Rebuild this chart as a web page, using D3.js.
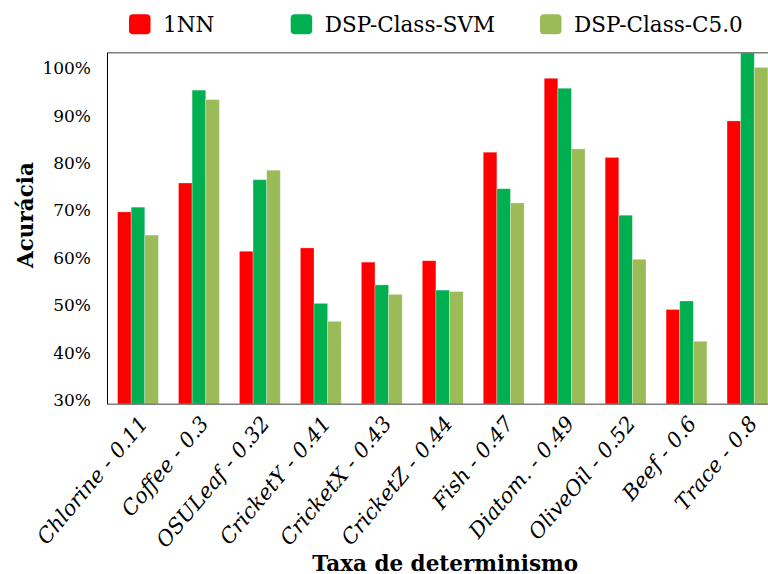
<!DOCTYPE html>
<html>
<head>
<meta charset="utf-8">
<script src="https://cdn.jsdelivr.net/npm/d3@7"></script>
<style>
  body { margin: 0; background: #fff; }
  svg { display: block; font-family: 'DejaVu Serif', serif; }
</style>
</head>
<body>
<div id="chart"></div>
<script>
// data (accuracy in %)
var categories = ['Chlorine - 0.11', 'Coffee - 0.3', 'OSULeaf - 0.32', 'CricketY - 0.41',
  'CricketX - 0.43', 'CricketZ - 0.44', 'Fish - 0.47', 'Diatom. - 0.49',
  'OliveOil - 0.52', 'Beef - 0.6', 'Trace - 0.8'];
var seriesNames = ['1NN', 'DSP-Class-SVM', 'DSP-Class-C5.0'];
var nn1 = [69.7, 75.8, 61.4, 62.1, 59.1, 59.4, 82.3, 97.9, 81.2, 49.1, 88.9];
var dspSvm = [70.7, 95.4, 76.5, 50.4, 54.3, 53.2, 74.6, 95.8, 69.0, 50.9, 104];
var dspC50 = [64.8, 93.4, 78.5, 46.6, 52.3, 52.9, 71.6, 83.0, 59.7, 42.4, 100.2];
var yTicks = [30, 40, 50, 60, 70, 80, 90, 100];
var colors = ['#ff0000', '#00b050', '#9bbb59'];

var W = 768, H = 574;
var plot = { left: 107.5, right: 783, top: 52.7, bottom: 404.3 };

var svg = d3.select('#chart').append('svg')
  .attr('width', W)
  .attr('height', H);

// scales
var x0 = d3.scaleBand()
  .domain(categories)
  .range([plot.left, plot.left + 11 * 60.95])
  .paddingInner(0.33)
  .paddingOuter(0.165);

var x1 = d3.scaleBand()
  .domain(seriesNames)
  .range([0, x0.bandwidth()]);

var y = d3.scaleLinear()
  .domain([29.1, 103.3])
  .range([plot.bottom, plot.top]);

var table = categories.map(function (c, i) {
  return { cat: c, values: [nn1[i], dspSvm[i], dspC50[i]] };
});

svg.append('clipPath').attr('id', 'plotclip')
  .append('rect')
  .attr('x', plot.left).attr('y', plot.top)
  .attr('width', plot.right - plot.left).attr('height', plot.bottom - plot.top);

//bars
var groups = svg.append('g')
  .attr('clip-path', 'url(#plotclip)')
  .selectAll('g')
  .data(table)
  .enter()
  .append('g')
  .attr('transform', function (d) { return 'translate(' + x0(d.cat) + ',0)'; });

groups.selectAll('rect')
  .data(function (d) { return d.values.map(function (v, k) { return { name: seriesNames[k], v: v, k: k }; }); })
  .enter()
  .append('rect')
  .attr('x', function (d) { return x1(d.name); })
  .attr('y', function (d) { return y(d.v); })
  .attr('width', x1.bandwidth())
  .attr('height', function (d) { return y.range()[0] - y(d.v); })
  .attr('fill', function (d) { return colors[d.k]; })
  .attr('stroke', '#fff')
  .attr('stroke-opacity', 0.35)
  .attr('stroke-width', 0.8);

//frame
svg.append('line')
  .attr('x1', plot.left).attr('x2', plot.right)
  .attr('y1', plot.top).attr('y2', plot.top)
  .attr('stroke', '#7f7f7f').attr('stroke-width', 1.6);
svg.append('line')
  .attr('x1', plot.left).attr('x2', plot.right)
  .attr('y1', plot.bottom).attr('y2', plot.bottom)
  .attr('stroke', '#7f7f7f').attr('stroke-width', 1.6);
svg.append('line')
  .attr('x1', plot.left).attr('x2', plot.left)
  .attr('y1', plot.top).attr('y2', plot.bottom)
  .attr('stroke', '#000').attr('stroke-width', 1);

//y-axis
var yAxis = svg.append('g')
  .attr('transform', 'translate(' + plot.left + ',0)')
  .call(d3.axisLeft(y).tickValues(yTicks).tickSize(0).tickPadding(16.5)
    .tickFormat(function (d) { return d + '%'; }));
yAxis.select('.domain').remove();
yAxis.selectAll('text')
  .attr('fill', '#000')
  .style('font-family', "'DejaVu Serif', serif")
  .style('font-size', '17px');

//x labels
svg.append('g')
  .selectAll('text')
  .data(categories)
  .enter()
  .append('text')
  .attr('transform', function (d) {
    return 'translate(' + (x0(d) + x0.bandwidth() / 2 + 11) + ',' + 424 + ')rotate(-50)';
  })
  .attr('text-anchor', 'end')
  .style('font-style', 'italic')
  .style('font-size', '21px')
  .text(function (d) { return d; });

//axis titles
svg.append('text')
  .attr('x', (plot.left + plot.right) / 2)
  .attr('y', 570.5)
  .attr('text-anchor', 'middle')
  .style('font-weight', 'bold')
  .style('font-size', '21.5px')
  .text('Taxa de determinismo');

svg.append('text')
  .attr('transform', 'translate(33,215)rotate(-90)')
  .attr('text-anchor', 'middle')
  .style('font-weight', 'bold')
  .style('font-size', '21.5px')
  .text('Acurácia');

//legend
var legendX = [129, 290.7, 540];
var legend = svg.append('g')
  .selectAll('g')
  .data(seriesNames)
  .enter()
  .append('g')
  .attr('transform', function (d, i) { return 'translate(' + legendX[i] + ',24.3)'; });

legend.append('rect')
  .attr('x', 0).attr('y', -10)
  .attr('width', 21.5).attr('height', 20)
  .attr('rx', 4)
  .attr('fill', function (d, i) { return colors[i]; });

legend.append('text')
  .attr('x', 34)
  .attr('dy', '0.36em')
  .style('font-size', '21.5px')
  .text(function (d) { return d; });
</script>
</body>
</html>
